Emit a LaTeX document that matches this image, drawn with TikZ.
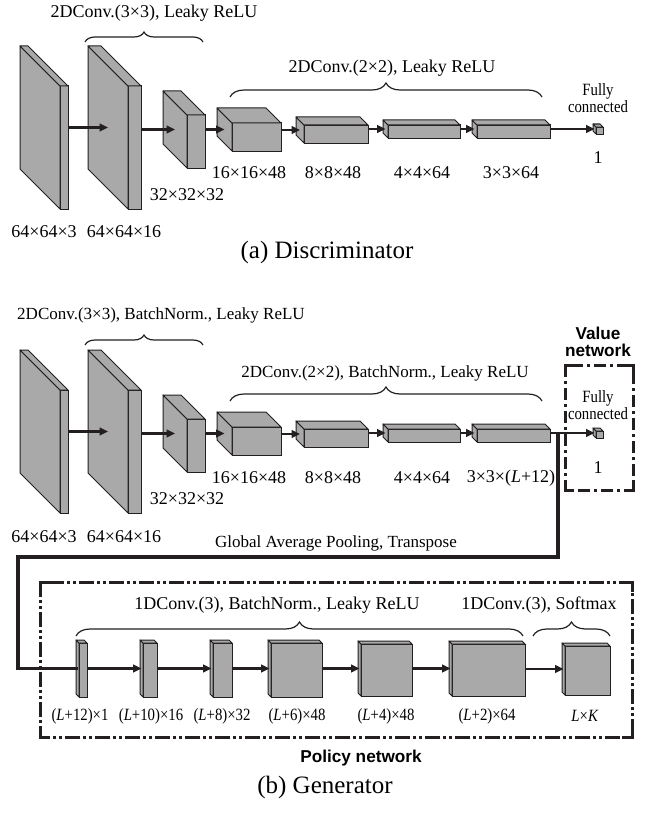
\documentclass[tikz,border=0pt]{standalone}
\usepackage{fontspec}
\setmainfont{Liberation Serif}
\setsansfont{Liberation Sans}
\newfontfamily\narrowserif[FakeStretch=0.86]{Liberation Serif}
\usepackage{tikz}
\usetikzlibrary{arrows.meta, positioning, calc, decorations.pathreplacing}
\definecolor{layercolor}{HTML}{A9A9A9}
\definecolor{inkcolor}{HTML}{231F20}

% front face as a node, side and top faces drawn up-left of it
\newcommand{\layer}[6]{%
  \node[face, anchor=north west, minimum width=#4*0.5pt, minimum height=#5*0.5pt] (#1) at (#2,#3) {};
  \draw[facedraw] (#1.north west) -- ++(-#6,-#6) -- ($(#1.south west)+(-#6,-#6)$) -- (#1.south west) -- cycle;
  \draw[facedraw] (#1.north west) -- ++(-#6,-#6) -- ($(#1.north east)+(-#6,-#6)$) -- (#1.north east) -- cycle;
  \coordinate (#1-in) at ($(#1.west)+(-#6/2,-#6/2)$);
}
\newcommand{\corners}[5]{%
  \draw[cornermark] (#1,#2+#5) -- (#1,#2) -- (#1+#5,#2);
  \draw[cornermark] (#3-#5,#2) -- (#3,#2) -- (#3,#2+#5);
  \draw[cornermark] (#3,#4-#5) -- (#3,#4) -- (#3-#5,#4);
  \draw[cornermark] (#1+#5,#4) -- (#1,#4) -- (#1,#4-#5);
}

\begin{document}
\begin{tikzpicture}[x=0.5pt, y=-0.5pt,
    face/.style={rectangle, draw=inkcolor, fill=layercolor, line width=0.5pt, inner sep=0pt, outer sep=0pt},
    facedraw/.style={draw=inkcolor, fill=layercolor, line width=0.5pt, line join=round},
    flow/.style={-{Triangle[length=4.2pt, width=3.8pt]}, line width=1.2pt, draw=inkcolor},
    pool/.style={line width=1.7pt, draw=inkcolor},
    dims/.style={font=\fontsize{9}{10}\selectfont, inner sep=0pt},
    polydims/.style={font=\narrowserif\fontsize{8.6}{10}\selectfont, inner sep=0pt},
    convlabel/.style={font=\fontsize{9}{10}\selectfont, inner sep=0pt},
    brace/.style={decorate, decoration={brace, amplitude=#1}, draw=inkcolor, line width=0.6pt},
    fclabel/.style={font=\narrowserif\fontsize{8.6}{8.6}\selectfont, align=center, inner sep=0pt},
    netlabel/.style={font=\sffamily\bfseries\fontsize{8.6}{8.6}\selectfont, align=center, inner sep=0pt},
    caption/.style={font=\fontsize{12.5}{14}\selectfont, inner sep=0pt},
    polframe/.style={draw=inkcolor, line width=1.5pt, dash pattern=on 7.5pt off 1.5pt on 1.5pt off 1.5pt on 1.5pt off 1.5pt},
    valframe/.style={draw=inkcolor, line width=1.5pt, dash pattern=on 6pt off 2pt on 1.5pt off 2pt},
    cornermark/.style={draw=inkcolor, line width=1.5pt}
]
\useasboundingbox (0,0) rectangle (655,813);

% (a) Discriminator
\layer{a1}{60}{86}{8}{123}{40}
\layer{a2}{128}{86}{13}{123}{40}
\layer{a3}{187}{115}{18}{53}{24}
\layer{a4}{232}{123}{49}{28}{15}
\layer{a5}{304}{125}{64}{18}{8}
\layer{a6}{388}{125}{72}{13}{5}
\layer{a7}{477}{125}{73}{13}{5}
\layer{afc}{596}{127}{7}{7}{3}

\draw[flow] (a1.east |- a2-in) -- (a2-in);
\draw[flow] (a2.east |- a3-in) -- (a3-in);
\draw[flow] (a3.east |- a4-in) -- (a4-in);
\draw[flow] (a4.east |- a5-in) -- (a5-in);
\draw[flow] (a5.east |- a6-in) -- (a6-in);
\draw[flow] (a6.east |- a7-in) -- (a7-in);
\draw[flow] (a7.east |- afc-in) -- (afc-in);

\node[dims] (la1) at (44,232) {64×64×3};
\node[dims] (la2) at (124,232) {64×64×16};
\node[dims] (la3) at (187,195) {32×32×32};
\node[dims] (la4) at (249,173) {16×16×48};
\node[dims] (la5) at (333,173) {8×8×48};
\node[dims] (la6) at (422,173) {4×4×64};
\node[dims] (la7) at (511,173) {3×3×64};
\node[dims] (lafc) at (598,158) {1};
\node[fclabel] (fca) at (598,98) {Fully\\connected};

\node[convlabel] (ca1) at (154,13) {2DConv.(3×3), Leaky ReLU};
\draw[brace=5pt] (85,42) -- (203,42);
\node[convlabel] (ca2) at (392,68) {2DConv.(2×2), Leaky ReLU};
\draw[brace=7pt] (230,97) -- (542,97);

\node[caption] (capa) at (327,252) {(a) Discriminator};

% (b) Generator
\layer{b1}{60}{390}{8}{123}{40}
\layer{b2}{128}{390}{13}{123}{40}
\layer{b3}{187}{419}{18}{53}{24}
\layer{b4}{232}{427}{49}{28}{15}
\layer{b5}{304}{429}{64}{18}{8}
\layer{b6}{388}{429}{72}{13}{5}
\layer{b7}{477}{429}{73}{13}{5}
\layer{bfc}{596}{431}{7}{7}{3}

\draw[flow] (b1.east |- b2-in) -- (b2-in);
\draw[flow] (b2.east |- b3-in) -- (b3-in);
\draw[flow] (b3.east |- b4-in) -- (b4-in);
\draw[flow] (b4.east |- b5-in) -- (b5-in);
\draw[flow] (b5.east |- b6-in) -- (b6-in);
\draw[flow] (b6.east |- b7-in) -- (b7-in);
\draw[flow] (b7.east |- bfc-in) -- (bfc-in);

\node[dims] (lb1) at (44,537) {64×64×3};
\node[dims] (lb2) at (124,537) {64×64×16};
\node[dims] (lb3) at (187,499) {32×32×32};
\node[dims] (lb4) at (249,478) {16×16×48};
\node[dims] (lb5) at (333,478) {8×8×48};
\node[dims] (lb6) at (422,478) {4×4×64};
\node[dims] (lb7) at (511,478) {3×3×(\textit{L}+12)};
\node[dims] (lbfc) at (598,468) {1};
\node[fclabel] (fcb) at (598,405) {Fully\\connected};

\node[convlabel, font=\fontsize{8.5}{10}\selectfont] (cb1) at (161,315) {2DConv.(3×3), BatchNorm., Leaky ReLU};
\draw[brace=5pt] (85,345) -- (203,345);
\node[convlabel, font=\fontsize{8.5}{10}\selectfont] (cb2) at (385,373) {2DConv.(2×2), BatchNorm., Leaky ReLU};
\draw[brace=7pt] (230,401) -- (542,401);

\draw[valframe] (565,365) rectangle (633,490);
\corners{565}{365}{633}{490}{8}
\node[netlabel] (valnet) at (598,342) {Value\\network};

\coordinate (split) at ($(b7.east |- bfc-in)+(8,0)$);
\coordinate (turn) at (18,557);
\node[convlabel, font=\fontsize{8.5}{10}\selectfont] (gap) at (336,543) {Global Average Pooling, Transpose};

% policy network
\layer{p1}{79}{643}{8}{54}{3}
\layer{p2}{143}{643}{14}{54}{3}
\layer{p3}{213}{643}{19}{54}{3}
\layer{p4}{271}{643}{51}{54}{3}
\layer{p5}{361}{644}{51}{52}{3}
\layer{p6}{452}{644}{73}{52}{3}
\layer{p7}{565}{646}{45}{49}{3}

\draw[pool] (split) |- (turn) |- (p1-in);
\draw[flow] (p1.east |- p2-in) -- (p2-in);
\draw[flow] (p2.east |- p3-in) -- (p3-in);
\draw[flow] (p3.east |- p4-in) -- (p4-in);
\draw[flow] (p4.east |- p5-in) -- (p5-in);
\draw[flow] (p5.east |- p6-in) -- (p6-in);
\draw[flow] (p6.east |- p7-in) -- (p7-in);

\node[polydims] (lp1) at (80,716) {(\textit{L}+12)×1};
\node[polydims] (lp2) at (151,716) {(\textit{L}+10)×16};
\node[polydims] (lp3) at (222,716) {(\textit{L}+8)×32};
\node[polydims] (lp4) at (297,716) {(\textit{L}+6)×48};
\node[polydims] (lp5) at (386,716) {(\textit{L}+4)×48};
\node[polydims] (lp6) at (487,716) {(\textit{L}+2)×64};
\node[polydims] (lp7) at (585,716) {\textit{L}×\textit{K}};

\node[convlabel] (cp1) at (277,605) {1DConv.(3), BatchNorm., Leaky ReLU};
\draw[brace=7pt] (76,636) -- (523,636);
\node[convlabel] (cp2) at (539,605) {1DConv.(3), Softmax};
\draw[brace=7pt] (533,636) -- (610,636);

\draw[polframe] (40,582) rectangle (632,737);
\corners{40}{582}{632}{737}{10}
\node[netlabel] (polnet) at (361,758) {Policy network};

\node[caption] (capb) at (325,787) {(b) Generator};

\end{tikzpicture}
\end{document}
